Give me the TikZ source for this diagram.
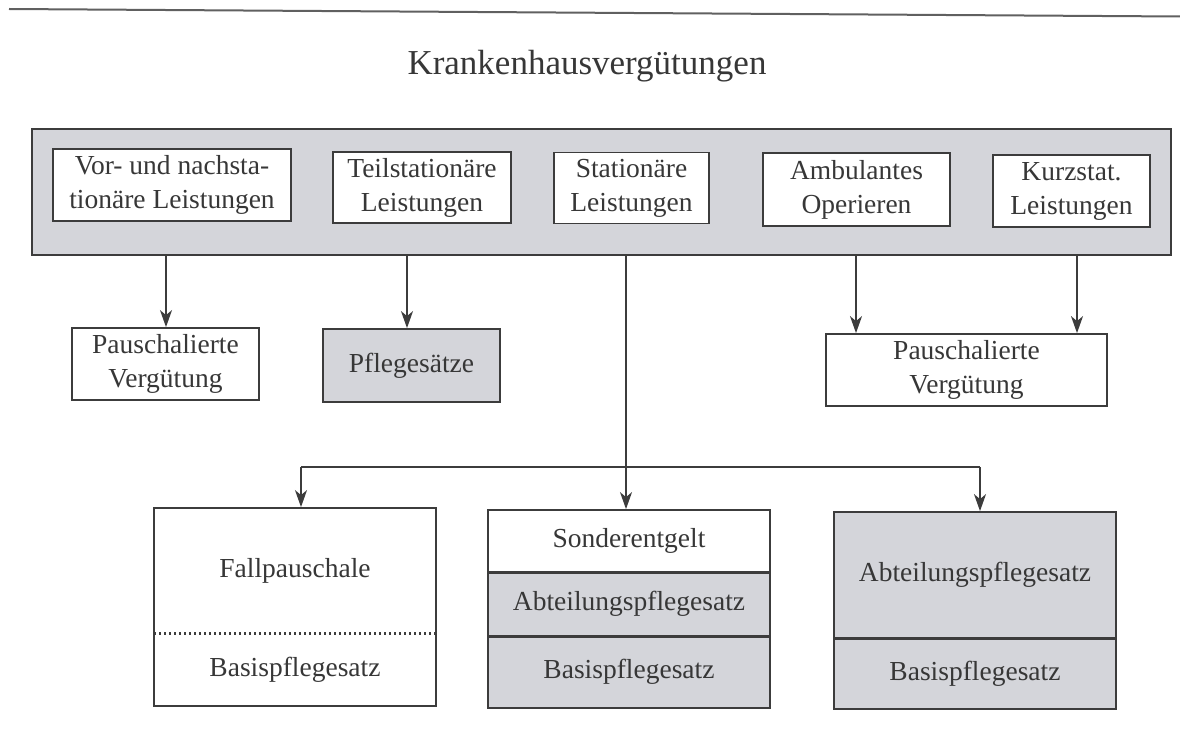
\documentclass[tikz,border=0pt]{standalone}
\usepackage{fontspec}
\setmainfont{Liberation Serif}
\usetikzlibrary{arrows.meta}
\definecolor{boxgray}{RGB}{212,213,218}
\definecolor{edge}{RGB}{60,60,60}
\definecolor{ink}{RGB}{55,55,55}
\tikzset{
  base/.style={rectangle, draw=edge, line width=1.8pt, inner sep=0pt, align=center, text=ink,
    font=\fontsize{27.5}{34}\selectfont},
  wbox/.style={base, fill=white},
  gbox/.style={base, fill=boxgray},
  plain/.style={inner sep=0pt, align=center, text=ink, font=\fontsize{27.5}{34}\selectfont},
  arr/.style={draw=edge, line width=1.6pt, -{Stealth[length=17pt,width=12pt,inset=5pt]}},
  conn/.style={draw=edge, line width=1.6pt},
  sep/.style={draw=edge, line width=2.8pt},
  dots/.style={draw=edge, line width=3pt, dash pattern=on 2.2pt off 2.8pt}
}
\begin{document}
\begin{tikzpicture}[x=1pt,y=-1pt]
\useasboundingbox (0,0) rectangle (1180,733);
% top rule
\draw[color=gray!75!black, line width=2pt] (9,9) -- (1180,16.5);
% title
\node[plain, font=\fontsize{35}{40}\selectfont] (title) at (587,66) {Krankenhausvergütungen};
% big frame
\node[gbox, minimum width=1139pt, minimum height=126pt] (top) at (601.5,192) {};
% inner boxes
\node[wbox, minimum width=238pt, minimum height=72pt] (t1) at (172,185) {Vor- und nachsta-\\tionäre Leistungen};
\node[wbox, minimum width=178pt, minimum height=71pt] (t2) at (422,187.5) {Teilstationäre\\Leistungen};
\node[wbox, minimum width=155pt, minimum height=71pt] (t3) at (631.5,188) {Stationäre\\Leistungen};
\node[wbox, minimum width=187pt, minimum height=73pt] (t4) at (856.5,189.5) {Ambulantes\\Operieren};
\node[wbox, minimum width=157pt, minimum height=72pt] (t5) at (1071.5,191) {Kurzstat.\\Leistungen};
% middle row
\node[wbox, minimum width=187pt, minimum height=72pt] (p1) at (165.5,364) {Pauschalierte\\Vergütung};
\node[gbox, minimum width=177pt, minimum height=73pt] (p2) at (411.5,365.5) {Pflegesätze};
\node[wbox, minimum width=281pt, minimum height=72pt] (p3) at (966.5,370) {Pauschalierte\\Vergütung};
% arrow x positions
\coordinate (s1) at (166,0);
\coordinate (s2) at (407,0);
\coordinate (s3) at (626,0);
\coordinate (s4) at (856,0);
\coordinate (s5) at (1077,0);
\coordinate (b1) at (301,467);
\coordinate (j) at (626,467);
\coordinate (b3) at (980,467);
% bottom left
\node[wbox, minimum width=282pt, minimum height=125pt] (l1) at (295,570.5) {Fallpauschale};
\node[wbox, minimum width=282pt, minimum height=73pt] (l2) at (295,669.5) {Basispflegesatz};
\fill[white] ([xshift=1pt,yshift=2pt]l1.south west) rectangle ([xshift=-1pt,yshift=-2pt]l2.north east);
\draw[dots] ([xshift=1pt]l1.south west) -- ([xshift=-1pt]l1.south east);
% bottom middle
\node[wbox, minimum width=282pt, minimum height=62pt] (m1) at (629,541) {Sonderentgelt};
\node[gbox, minimum width=282pt, minimum height=64pt] (m2) at (629,604) {Abteilungspflegesatz};
\node[gbox, minimum width=282pt, minimum height=72pt] (m3) at (629,672) {Basispflegesatz};
\draw[sep] (m1.south west) -- (m1.south east);
\draw[sep] (m2.south west) -- (m2.south east);
% bottom right
\node[gbox, minimum width=282pt, minimum height=126pt] (r1) at (975,575) {Abteilungspflegesatz};
\node[gbox, minimum width=282pt, minimum height=71pt] (r2) at (975,673.5) {Basispflegesatz};
\draw[sep] (r1.south west) -- (r1.south east);
% connectors
\draw[arr] (top.south -| s1) -- (s1 |- p1.north);
\draw[arr] (top.south -| s2) -- (s2 |- p2.north);
\draw[arr] (top.south -| s4) -- (s4 |- p3.north);
\draw[arr] (top.south -| s5) -- (s5 |- p3.north);
\draw[conn] (top.south -| s3) -- (j);
\draw[conn] (b1) -- (b3);
\draw[arr] (b1) -- (b1 |- l1.north);
\draw[arr] (j) -- (j |- m1.north);
\draw[arr] (b3) -- (b3 |- r1.north);
\end{tikzpicture}
\end{document}
